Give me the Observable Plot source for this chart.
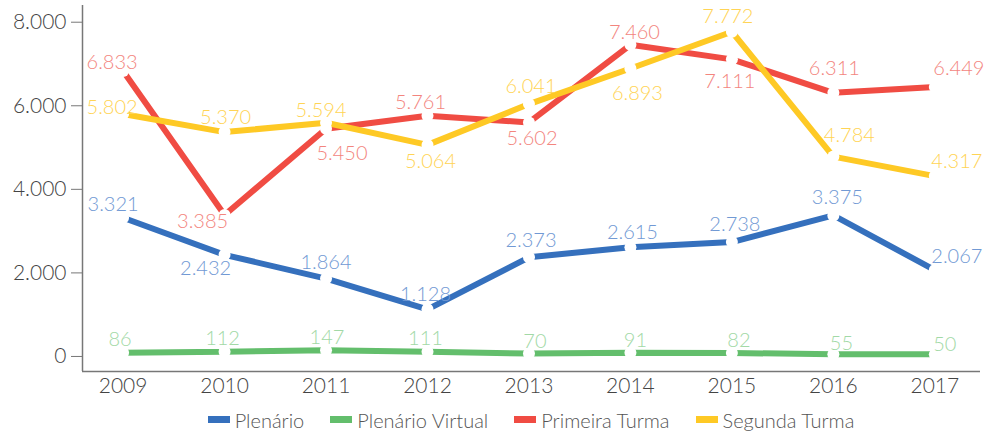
<!DOCTYPE html>
<html>
<head>
<meta charset="utf-8">
<script src="https://cdn.jsdelivr.net/npm/d3@7"></script>
<script src="https://cdn.jsdelivr.net/npm/@observablehq/plot@0.6"></script>
<style>
  html, body { margin: 0; padding: 0; background: #fff; }
  body { width: 985px; height: 439px; overflow: hidden; font-family: Lato, Roboto, sans-serif; font-weight: 300; }
  #legend { display: flex; justify-content: center; align-items: center; height: 39px; padding-left: 82px; padding-right: 5px; box-sizing: border-box; width: 985px; }
  .item { display: flex; align-items: center; margin: 0 13px; font-size: 20px; color: #555; font-weight: 300; }
  .sw { width: 22px; height: 7px; margin-right: 5px; }
</style>
</head>
<body>
<div id="chart"></div>
<div id="legend"></div>
<script>
const years = [2009, 2010, 2011, 2012, 2013, 2014, 2015, 2016, 2017];
const plenario = [3321, 2432, 1864, 1128, 2373, 2615, 2738, 3375, 2067];
const plenarioVirtual = [86, 112, 147, 111, 70, 91, 82, 55, 50];
const primeiraTurma = [6833, 3385, 5450, 5761, 5602, 7460, 7111, 6311, 6449];
const segundaTurma = [5802, 5370, 5594, 5064, 6041, 6893, 7772, 4784, 4317];
const yTicks = [0, 2000, 4000, 6000, 8000];
const seriesNames = ["Plenário", "Plenário Virtual", "Primeira Turma", "Segunda Turma"];

// label placement (layout only)
const plenarioLabelOffset = [[-10,-13],[-19,14],[0,-16],[-2,-15],[2,-17],[2,-15],[3,-17],[4,-18],[22,-14]];
const virtualLabelOffset = [[-3,-13],[-2,-13],[1,-13],[-2,-13],[6,-12],[5,-12],[7,-12],[8,-11],[10,-10]];
const primeiraLabelOffset = [[-11,-8],[-22,7],[16,25],[-7,-13],[3,16],[4,-12],[-2,22],[1,-24],[24,-18]];
const segundaLabelOffset = [[-11,-6],[1,-15],[-5,-12],[3,17],[2,-17],[7,25],[-4,-15],[16,-21],[22,-14]];

const lineColors = ["#3570bd", "#63be6c", "#f04c43", "#fec925"];
const labelColors = ["#7199d4", "#a2d9a6", "#f3857e", "#ffd455"];

const seriesValues = [plenario, plenarioVirtual, primeiraTurma, segundaTurma];
const offsets = [plenarioLabelOffset, virtualLabelOffset, primeiraLabelOffset, segundaLabelOffset];

const rows = [];
seriesValues.forEach((vals, s) => {
  vals.forEach((v, i) => rows.push({series: seriesNames[s], si: s, year: years[i], value: v, dx: offsets[s][i][0], dy: offsets[s][i][1]}));
});

const fmt = d => d3.format(",")(d).replace(/,/g, ".");

const labelMarks = [];
rows.forEach(r => {
  labelMarks.push(Plot.text([r], {x: "year", y: "value", text: d => fmt(d.value), dx: r.dx, dy: r.dy, fill: labelColors[r.si], fontSize: 20, fontWeight: 300}));
});

const chart = Plot.plot({
  width: 985,
  height: 400,
  marginLeft: 82,
  marginRight: 5,
  marginTop: 5,
  marginBottom: 29,
  style: {fontFamily: "Lato, Roboto, sans-serif", fontWeight: 300, background: "#fff"},
  x: {domain: [2008.6, 2017.45]},
  y: {domain: [-360, 8400]},
  marks: [
    Plot.ruleX([2008.6], {stroke: "#777", strokeWidth: 1.5}),
    Plot.ruleY([-360], {stroke: "#777", strokeWidth: 1.5}),
    Plot.axisY({ticks: yTicks, tickSize: 11, tickPadding: 5, tickFormat: fmt, fontSize: 21, color: "#444", stroke: "#777", label: null}),
    Plot.axisX({ticks: years, tickSize: 0, tickPadding: 7, tickFormat: d => String(d), fontSize: 21, color: "#444", label: null}),
    Plot.line(rows, {x: "year", y: "value", z: "series", stroke: d => lineColors[d.si], strokeWidth: 6, strokeLinejoin: "miter", strokeLinecap: "butt"}),
    Plot.dot(rows, {x: "year", y: "value", r: 6, fill: "#fff", stroke: null}),
    ...labelMarks
  ]
});
document.getElementById("chart").appendChild(chart);

const legend = document.getElementById("legend");
seriesNames.forEach((n, i) => {
  const it = document.createElement("div");
  it.className = "item";
  const sw = document.createElement("div");
  sw.className = "sw";
  sw.style.background = lineColors[i];
  const t = document.createElement("span");
  t.textContent = n;
  it.appendChild(sw); it.appendChild(t);
  legend.appendChild(it);
});
</script>
</body>
</html>
